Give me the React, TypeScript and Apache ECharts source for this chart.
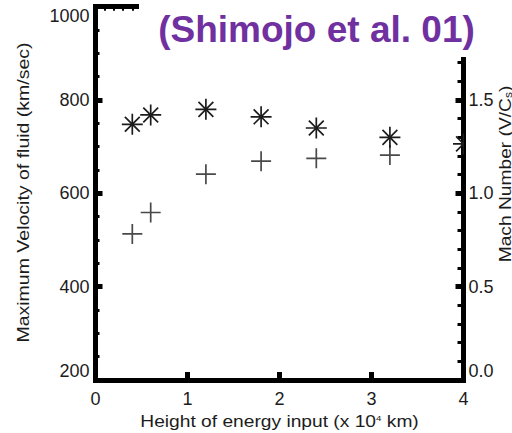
import React, { useEffect, useRef } from 'react';
import * as echarts from 'echarts';

// Height of energy input (x 10^4 km)
const heights = [0.4, 0.6, 1.2, 1.8, 2.4, 3.2];
const machHeights = [0.4, 0.6, 1.2, 1.8, 2.4, 3.2, 4.0];
// Maximum velocity of fluid (km/sec), plotted with "+"
const maxVelocity = [513, 559, 641, 669, 675, 682];
// Mach number V/Cs, plotted with "*"
const machNumber = [1.37, 1.42, 1.45, 1.41, 1.35, 1.3, 1.265];

const xTicks = ['0', '1', '2', '3', '4'];
const velocityTicks = ['200', '400', '600', '800', '1000'];
const machTicks = ['0.0', '0.5', '1.0', '1.5', '2.0'];

const PLUS = 'path://M0,10L20,10M10,0L10,20';

const FONT = '"Liberation Sans", Arial, Helvetica, sans-serif';
const INK = '#1c1c1c';

const axisLineStyle = { color: '#000', width: 5, cap: 'square' as const };

// Asterisk marker drawn as four strokes, so the plot area can clip it
function renderStar(_params: any, api: any) {
  const [cx, cy] = api.coord([api.value(0), api.value(1)]);
  const r = 10.5;
  const d = r * Math.SQRT1_2;
  const stroke = { stroke: INK, lineWidth: 1.7 };
  const seg = (x1: number, y1: number, x2: number, y2: number) => ({
    type: 'line',
    shape: { x1: cx + x1, y1: cy + y1, x2: cx + x2, y2: cy + y2 },
    style: stroke,
  });
  return {
    type: 'group',
    children: [
      seg(-r, 0, r, 0),
      seg(0, -r, 0, r),
      seg(-d, -d, d, d),
      seg(d, -d, -d, d),
      { type: 'rect', shape: { x: cx - 1.5, y: cy - 1.5, width: 3, height: 3 }, style: { fill: INK } },
    ],
  };
}

export default function App() {
  const ref = useRef<HTMLDivElement>(null);

  useEffect(() => {
    if (!ref.current) return;
    const chart = echarts.init(ref.current, null, { renderer: 'svg' });

    const xMin = Number(xTicks[0]);
    const xMax = Number(xTicks[xTicks.length - 1]);
    const vMin = Number(velocityTicks[0]);
    const vMax = Number(velocityTicks[velocityTicks.length - 1]);
    const mMin = Number(machTicks[0]);
    const mMax = Number(machTicks[machTicks.length - 1]);

    const tickLabel = {
      fontSize: 18,
      fontFamily: FONT,
      color: INK,
    };

    chart.setOption({
      animation: false,
      backgroundColor: '#fff',
      grid: { left: 95.5, right: 48.5, top: 6.7, bottom: 53, containLabel: false },
      xAxis: [
        {
          type: 'value',
          position: 'bottom',
          min: xMin,
          max: xMax,
          interval: 1,
          axisLine: { show: true, lineStyle: axisLineStyle },
          axisTick: { show: true, inside: true, length: 8, lineStyle: { color: '#000', width: 5 } },
          minorTick: { show: false },
          splitLine: { show: false },
          axisLabel: { ...tickLabel, margin: 10, formatter: (v: number) => String(v) },
        },
        {
          type: 'value',
          position: 'top',
          min: xMin,
          max: xMax,
          interval: 1,
          axisLine: { show: true, onZero: false, lineStyle: axisLineStyle },
          axisTick: { show: true, inside: true, length: 6, lineStyle: { color: '#000', width: 4 } },
          minorTick: { show: true, splitNumber: 10, length: 4, lineStyle: { color: '#000', width: 2 } },
          splitLine: { show: false },
          axisLabel: { show: false },
        },
      ],
      yAxis: [
        {
          type: 'value',
          position: 'left',
          min: vMin,
          max: vMax,
          interval: 200,
          axisLine: { show: true, onZero: false, lineStyle: axisLineStyle },
          axisTick: { show: true, inside: true, length: 7, lineStyle: { color: '#000', width: 5 } },
          minorTick: { show: true, splitNumber: 4, length: 4, lineStyle: { color: '#000', width: 3 } },
          splitLine: { show: false },
          axisLabel: {
            ...tickLabel,
            margin: 6,
            verticalAlignMinLabel: 'bottom',
            verticalAlignMaxLabel: 'top',
            formatter: (v: number) => String(v),
          },
        },
        {
          type: 'value',
          position: 'right',
          min: mMin,
          max: mMax,
          interval: 0.5,
          axisLine: { show: true, onZero: false, lineStyle: axisLineStyle },
          axisTick: { show: true, inside: true, length: 8, lineStyle: { color: '#000', width: 5 } },
          minorTick: { show: true, splitNumber: 5, length: 6, lineStyle: { color: '#000', width: 3 } },
          splitLine: { show: false },
          axisLabel: {
            ...tickLabel,
            margin: 5,
            showMaxLabel: false,
            verticalAlignMinLabel: 'bottom',
            formatter: (v: number) => v.toFixed(1),
          },
        },
      ],
      series: [
        {
          name: 'Maximum velocity',
          type: 'scatter',
          xAxisIndex: 0,
          yAxisIndex: 0,
          symbol: PLUS,
          symbolSize: 20,
          itemStyle: { color: INK, borderColor: INK, borderWidth: 1.7 },
          data: heights.map((h, i) => [h, maxVelocity[i]]),
          z: 3,
        },
        {
          name: 'Mach number',
          type: 'custom',
          xAxisIndex: 0,
          yAxisIndex: 1,
          clip: true,
          renderItem: renderStar,
          encode: { x: 0, y: 1 },
          data: machHeights.map((h, i) => [h, machNumber[i]]),
          z: 3,
        },
      ],
      graphic: [
        {
          type: 'rect',
          shape: { x: 139, y: 0, width: 373, height: 57 },
          style: { fill: '#fff' },
          z: 100,
        },
        {
          type: 'text',
          x: 316.5,
          y: 29,
          z: 101,
          style: {
            text: '(Shimojo et al. 01)',
            fill: '#7030A0',
            fontSize: 37,
            fontWeight: 'bold',
            fontFamily: FONT,
            align: 'center',
            verticalAlign: 'middle',
          },
        },
        {
          type: 'text',
          x: 24,
          y: 192.5,
          rotation: Math.PI / 2,
          scaleX: 1.22,
          z: 50,
          style: {
            text: 'Maximum Velocity of fluid (km/sec)',
            fill: INK,
            fontSize: 16,
            fontFamily: FONT,
            align: 'center',
            verticalAlign: 'middle',
          },
        },
        {
          type: 'text',
          x: 505.5,
          y: 174,
          rotation: Math.PI / 2,
          scaleX: 1.2,
          z: 50,
          style: {
            text: '{a|Mach Number (V/C}{s|s}{a|)}',
            fill: INK,
            align: 'center',
            verticalAlign: 'middle',
            rich: {
              a: { fontSize: 16, fontFamily: FONT, fill: INK },
              s: { fontSize: 10, fontFamily: FONT, fill: INK, verticalAlign: 'bottom' },
            },
          },
        },
        {
          type: 'text',
          x: 279.5,
          y: 422,
          scaleX: 1.2,
          z: 50,
          style: {
            text: '{a|Height of energy input (x 10}{p|4}{a| km)}',
            fill: INK,
            align: 'center',
            verticalAlign: 'middle',
            rich: {
              a: { fontSize: 16, fontFamily: FONT, fill: INK },
              p: { fontSize: 8, fontFamily: FONT, fill: INK, verticalAlign: 'top' },
            },
          },
        },
      ],
    });

    return () => chart.dispose();
  }, []);

  return (
    <div
      ref={ref}
      style={{ position: 'fixed', left: 0, top: 0, width: 512, height: 433, background: '#fff' }}
    />
  );
}
